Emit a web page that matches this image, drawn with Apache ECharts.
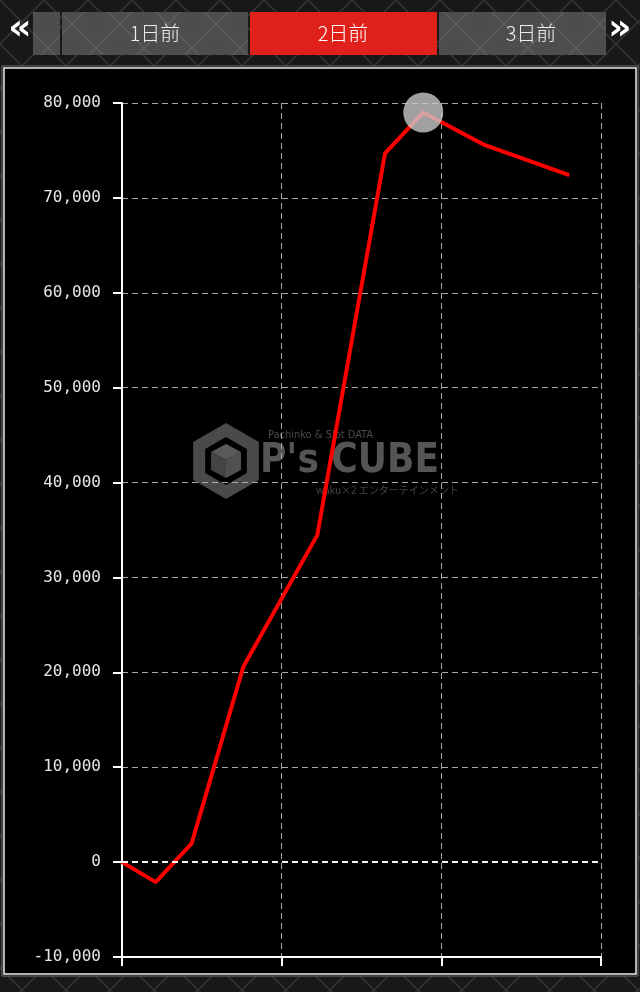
<!DOCTYPE html>
<html><head><meta charset="utf-8">
<script src="https://cdn.jsdelivr.net/npm/echarts@6/dist/echarts.min.js"></script>
<style>html,body{margin:0;padding:0;background:#151515;}#c{width:640px;height:992px;}</style>
</head><body><div id="c"></div>
<script>
// ---- data ----
const gameCounts = [0, 528, 1091, 1899, 3058, 4118, 4717, 5684, 7003];
const diffValues = [0, -2110, 1970, 20580, 34460, 74680, 79000, 75550, 72390];
const peakIndex = 6;
const tabLabels = ['1日前', '2日前', '3日前'];
const activeTab = 1;
const yMin = -10000, yMax = 80000, yStep = 10000;
const xMin = 0, xMax = 7500, xStep = 2500;

function makePattern(size, bg, line, lw) {
  const c = document.createElement('canvas');
  c.width = size; c.height = size;
  const g = c.getContext('2d');
  g.fillStyle = bg; g.fillRect(0, 0, size, size);
  g.strokeStyle = line; g.lineWidth = lw;
  g.beginPath();
  g.moveTo(0, 0); g.lineTo(size, size);
  g.moveTo(size, 0); g.lineTo(0, size);
  g.stroke();
  return c;
}
const bgPat = makePattern(44, '#181818', '#303030', 2);
const tabPat = makePattern(48, '#4d4d4d', '#5b5b5b', 2);

const chart = echarts.init(document.getElementById('c'), null, {renderer: 'canvas'});

function hexPts(cx, cy, r) {
  const p = [];
  for (let i = 0; i < 6; i++) {
    const a = Math.PI / 180 * (60 * i - 90);
    p.push([cx + r * Math.cos(a), cy + r * Math.sin(a)]);
  }
  return p;
}

const tabs = [
  {x: 62, w: 186, tx: 155}, {x: 250, w: 187, tx: 343}, {x: 439, w: 167, tx: 531}
];
const graphics = [
  {type: 'rect', z: -100, shape: {x: 0, y: 0, width: 640, height: 992}, style: {fill: {image: bgPat, repeat: 'repeat'}}, silent: true},
  {type: 'rect', z: -90, shape: {x: 33, y: 12, width: 27, height: 43}, style: {fill: {image: tabPat, repeat: 'repeat'}}, silent: true},
  {type: 'text', z: -80, style: {text: '«', x: 20, y: 30, fill: '#ffffff', font: 'bold 36px "DejaVu Sans"', textAlign: 'center', textVerticalAlign: 'middle'}},
  {type: 'text', z: -80, style: {text: '»', x: 620, y: 30, fill: '#ffffff', font: 'bold 36px "DejaVu Sans"', textAlign: 'center', textVerticalAlign: 'middle'}},
  {type: 'rect', z: -90, shape: {x: 2, y: 66, width: 636, height: 910}, style: {fill: '#000000', stroke: '#777777', lineWidth: 1}, silent: true},
  {type: 'rect', z: -89, shape: {x: 4, y: 68, width: 632, height: 906}, style: {fill: '#000000', stroke: '#f0f0f0', lineWidth: 1.5}, silent: true},
  {type: 'polygon', z: -50, shape: {points: hexPts(226, 461, 31)}, style: {fill: 'none', stroke: '#4a4a4a', lineWidth: 12, lineJoin: 'miter'}, silent: true},
  {type: 'polygon', z: -49, shape: {points: [[226, 444], [241, 452], [226, 460], [211, 452]]}, style: {fill: '#5a5a5a'}, silent: true},
  {type: 'polygon', z: -49, shape: {points: [[211, 452], [226, 460], [226, 478], [211, 470]]}, style: {fill: '#444444'}, silent: true},
  {type: 'polygon', z: -49, shape: {points: [[241, 452], [226, 460], [226, 478], [241, 470]]}, style: {fill: '#505050'}, silent: true},
  {type: 'text', z: -50, style: {text: 'Pachinko & Slot DATA', x: 268, y: 435, fill: '#4a4a4a', font: '11px "DejaVu Sans Condensed", "DejaVu Sans"', textVerticalAlign: 'middle'}},
  {type: 'text', z: -50, style: {text: "P's CUBE", x: 260, y: 462, fill: '#555555', font: 'bold 40px "DejaVu Sans Condensed", "DejaVu Sans"', textVerticalAlign: 'middle'}},
  {type: 'text', z: -50, style: {text: 'waku×2 エンターテインメント', x: 316, y: 490, fill: '#444444', font: '10px "Noto Sans CJK JP"', textVerticalAlign: 'middle'}}
];
tabs.forEach((t, i) => {
  graphics.push({type: 'rect', z: -90, shape: {x: t.x, y: 12, width: t.w, height: 43},
    style: i === activeTab ? {fill: '#e0211b'} : {fill: {image: tabPat, repeat: 'repeat'}}, silent: true});
  graphics.push({type: 'text', z: -80, style: {text: tabLabels[i], x: t.tx, y: 33,
    fill: i === activeTab ? '#ffffff' : '#eeeeee', font: '300 20px "Noto Sans CJK JP"', textAlign: 'center', textVerticalAlign: 'middle'}});
});

const dash = [6, 4];
const option = {
  animation: false,
  backgroundColor: 'transparent',
  graphic: {elements: graphics},
  grid: {left: 122, right: 39, top: 103, bottom: 35, containLabel: false},
  xAxis: {
    type: 'value', min: xMin, max: xMax, interval: xStep,
    axisLine: {show: true, onZero: false, lineStyle: {color: '#ffffff', width: 2}},
    axisTick: {show: true, length: 9, lineStyle: {color: '#ffffff', width: 2}},
    axisLabel: {show: false},
    splitLine: {show: true, lineStyle: {color: '#a8a8a8', type: dash, width: 1}}
  },
  yAxis: {
    type: 'value', min: yMin, max: yMax, interval: yStep,
    axisLine: {show: true, onZero: false, lineStyle: {color: '#ffffff', width: 2}},
    axisTick: {show: true, length: 9, lineStyle: {color: '#ffffff', width: 2}},
    axisLabel: {show: true, color: '#e6e6e6', fontFamily: '"DejaVu Sans Mono"', fontSize: 16, margin: 21,
      formatter: v => (v < 0 ? '-' : '') + Math.abs(v).toString().replace(/\B(?=(\d{3})+(?!\d))/g, ',')},
    splitLine: {show: true, lineStyle: {color: '#a8a8a8', type: dash, width: 1}}
  },
  series: [{
    type: 'line',
    data: gameCounts.map((g, i) => [g, diffValues[i]]),
    showSymbol: false,
    lineStyle: {color: '#ff0000', width: 4},
    itemStyle: {color: '#ff0000'},
    markLine: {
      silent: true, symbol: 'none', label: {show: false},
      lineStyle: {color: '#f4f4f4', type: dash, width: 2},
      data: [{yAxis: 0}]
    },
    markPoint: {
      silent: true, symbol: 'circle', symbolSize: 40, label: {show: false},
      itemStyle: {color: 'rgba(205,205,205,0.78)'},
      data: [{coord: [gameCounts[peakIndex], diffValues[peakIndex]]}]
    }
  }]
};
chart.setOption(option);
</script>
</body></html>
